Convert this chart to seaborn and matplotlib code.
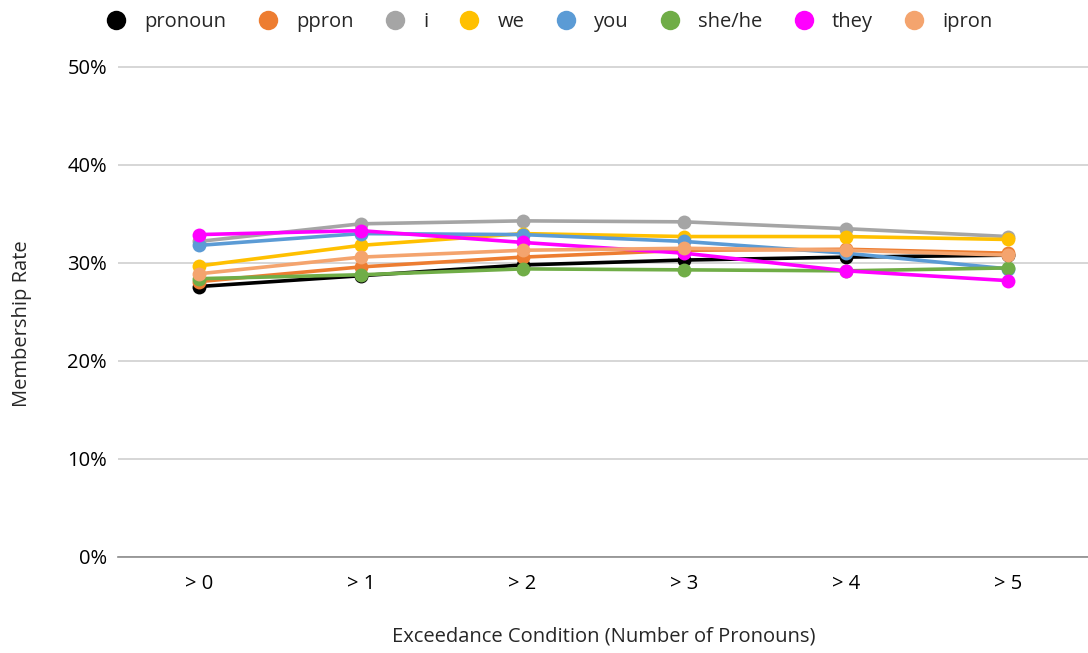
import matplotlib
matplotlib.use("Agg")
import matplotlib.pyplot as plt
from matplotlib.lines import Line2D
from matplotlib.ticker import PercentFormatter
import pandas as pd
import seaborn as sns

conditions = ["> 0", "> 1", "> 2", "> 3", "> 4", "> 5"]
series_names = ["pronoun", "ppron", "i", "we", "you", "she/he", "they", "ipron"]

pronoun = [27.6, 28.7, 29.8, 30.3, 30.6, 30.8]
ppron   = [28.1, 29.6, 30.6, 31.3, 31.4, 31.0]
i_vals  = [32.2, 34.0, 34.3, 34.2, 33.5, 32.7]
we      = [29.7, 31.8, 33.0, 32.7, 32.7, 32.4]
you     = [31.8, 33.0, 32.9, 32.2, 31.0, 29.4]
shehe   = [28.4, 28.8, 29.4, 29.3, 29.2, 29.5]
they    = [32.9, 33.3, 32.1, 31.0, 29.2, 28.2]
ipron   = [28.9, 30.6, 31.3, 31.5, 31.3, 30.8]

colors = ["#000000", "#ED7D31", "#A5A5A5", "#FFC000",
          "#5B9BD5", "#70AD47", "#FF00FF", "#F4A46E"]

values = [pronoun, ppron, i_vals, we, you, shehe, they, ipron]
rows = []
for name, vals in zip(series_names, values):
    for pos, (cond, v) in enumerate(zip(conditions, vals)):
        rows.append({"series": name, "pos": pos, "rate": v / 100.0})
df = pd.DataFrame(rows)

sns.set_theme(style="white")
plt.rcParams["font.family"] = ["Open Sans", "DejaVu Sans"]

FS = 14.5

fig = plt.figure(figsize=(10.88, 6.53), dpi=100)
ax = fig.add_axes([118 / 1088, 96 / 653, 971 / 1088, 520 / 653])

palette = dict(zip(series_names, colors))
sns.lineplot(data=df, x="pos", y="rate", hue="series", hue_order=series_names,
             palette=palette, marker="o", markersize=10, markeredgewidth=0,
             linewidth=2.6, legend=False, ax=ax)

ax.set_xlim(-0.5, 5.5)
ax.set_ylim(0, 0.5 * 520 / 490)
ax.set_yticks([0, 0.1, 0.2, 0.3, 0.4, 0.5])
ax.yaxis.set_major_formatter(PercentFormatter(1.0, decimals=0))
ax.set_xticks(range(len(conditions)))
ax.set_xticklabels(conditions)
ax.grid(axis="y", color="#D0D0D0", linewidth=1.2)
ax.set_axisbelow(True)
for side in ["left", "right", "top"]:
    ax.spines[side].set_visible(False)
ax.spines["bottom"].set_color("#8C8C8C")
ax.spines["bottom"].set_linewidth(1.2)
ax.tick_params(axis="both", length=0, labelsize=FS, colors="#000000", pad=8)
ax.tick_params(axis="x", pad=12)

ax.set_ylabel("Membership Rate", fontsize=FS)
ax.set_xlabel("Exceedance Condition (Number of Pronouns)", fontsize=FS)
ax.yaxis.set_label_coords(-0.089, 0.448)
ax.xaxis.set_label_coords(0.5, -0.133)

handles = [Line2D([0], [0], marker="o", linestyle="none", markersize=14,
                  markerfacecolor=c, markeredgewidth=0) for c in colors]
fig.legend(handles, series_names, loc="upper center", ncol=8,
           bbox_to_anchor=(0.505, 1.01), frameon=False, fontsize=FS,
           handlelength=1.0, handletextpad=0.9, columnspacing=1.55)

fig.savefig("out.png", dpi=100)
